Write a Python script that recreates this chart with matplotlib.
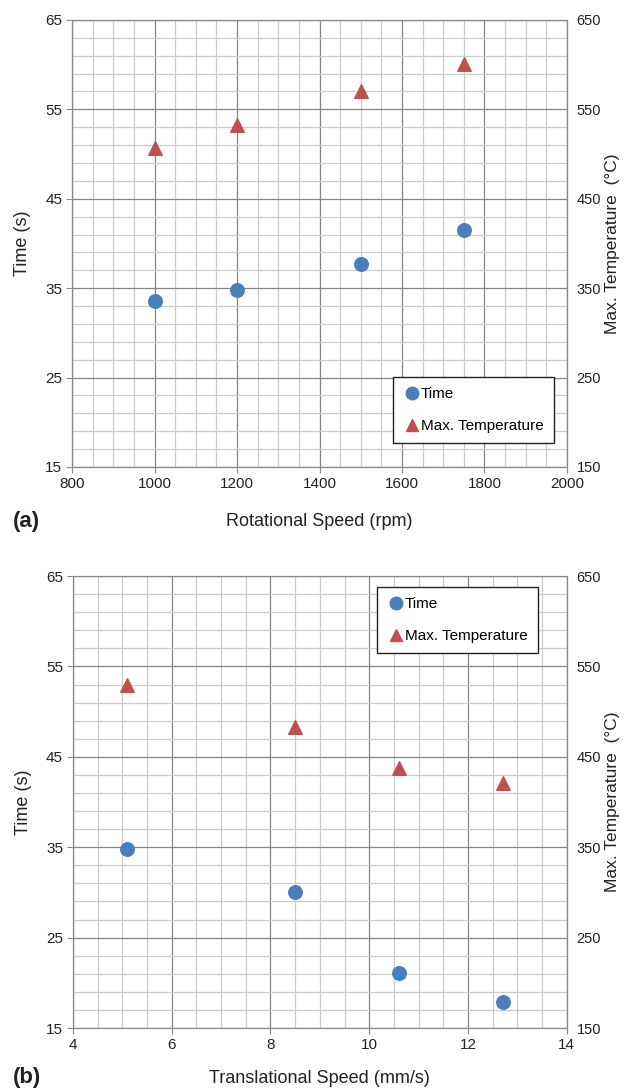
import matplotlib.pyplot as plt
from matplotlib.ticker import MultipleLocator
from matplotlib.lines import Line2D

plt.rcParams['font.family'] = ['Liberation Sans', 'DejaVu Sans']

# panel (a): rotational speed
rot_speed = [1000, 1200, 1500, 1750]
rot_time = [33.6, 34.8, 37.7, 41.5]
rot_temp = [507, 532, 570, 601]

# panel (b): translational speed
trans_speed = [5.1, 8.5, 10.6, 12.7]
trans_time = [34.8, 30.0, 21.1, 17.9]
trans_temp = [530, 483, 438, 421]

BLUE = '#4a7ebb'
RED = '#c0504d'
TXT = '#222222'


def panel(ax, x, t, temp, xlim, xmaj, xmin, xlabel, xlab_y, legend_pos):
    ax.set_xlim(*xlim)
    ax.set_ylim(15, 65)
    ax.xaxis.set_major_locator(MultipleLocator(xmaj))
    ax.xaxis.set_minor_locator(MultipleLocator(xmin))
    ax.yaxis.set_major_locator(MultipleLocator(10, offset=5))
    ax.yaxis.set_minor_locator(MultipleLocator(2, offset=1))
    ax.grid(which='minor', color='#cccccc', lw=0.9)
    ax.grid(which='major', color='#858585', lw=0.9)
    ax.set_axisbelow(True)
    ax.tick_params(which='minor', length=0)
    ax.tick_params(which='major', length=4, color='#888888', labelsize=11,
                   labelcolor=TXT, pad=3)
    for s in ax.spines.values():
        s.set_color('#888888')
    ax.set_ylabel('Time (s)', fontsize=13, color=TXT, va='center')
    ax.yaxis.set_label_coords(-0.10, 0.5)
    ax.set_xlabel(xlabel, fontsize=13, color=TXT, va='center')
    ax.xaxis.set_label_coords(0.5, xlab_y)

    ax.scatter(x, t, s=95, color=BLUE, zorder=3)

    ax2 = ax.twinx()
    ax2.set_ylim(150, 650)
    ax2.yaxis.set_major_locator(MultipleLocator(100, offset=50))
    ax2.tick_params(length=0, labelsize=10.5, labelcolor=TXT, pad=7)
    for s in ax2.spines.values():
        s.set_color('#888888')
    ax2.set_ylabel('Max. Temperature  (\u00b0C)', fontsize=12.5, color=TXT,
                   va='center')
    ax2.yaxis.set_label_coords(1.092, 0.5)
    ax2.scatter(x, temp, s=95, marker='^', color=RED, zorder=3)

    handles = [Line2D([], [], ls='none', marker='o', ms=9, color=BLUE),
               Line2D([], [], ls='none', marker='^', ms=9, color=RED)]
    leg = ax2.legend(handles, ['Time', 'Max. Temperature'], loc='lower left',
                     bbox_to_anchor=legend_pos, fontsize=11, frameon=True,
                     fancybox=False, edgecolor=TXT, framealpha=1,
                     handletextpad=0.0, handlelength=1.2, labelspacing=1.15,
                     borderpad=0.65, borderaxespad=0)
    leg.get_frame().set_linewidth(1.0)


fig = plt.figure(figsize=(6.39, 10.91), dpi=100)
ax_a = fig.add_axes([0.1127, 0.572, 0.7746, 0.4097])
ax_b = fig.add_axes([0.114, 0.0577, 0.773, 0.4143])

panel(ax_a, rot_speed, rot_time, rot_temp, (800, 2000), 200, 50,
      'Rotational Speed (rpm)', -0.123, (0.648, 0.054))
panel(ax_b, trans_speed, trans_time, trans_temp, (4, 14), 2, 0.5,
      'Translational Speed (mm/s)', -0.111, (0.615, 0.830))

fig.text(13 / 639, 1 - 522 / 1091, '(a)', fontsize=16, fontweight='bold',
         ha='left', va='center', color=TXT)
fig.text(13 / 639, 1 - 1077 / 1091, '(b)', fontsize=16, fontweight='bold',
         ha='left', va='center', color=TXT)

fig.savefig('out.png', dpi=100)
